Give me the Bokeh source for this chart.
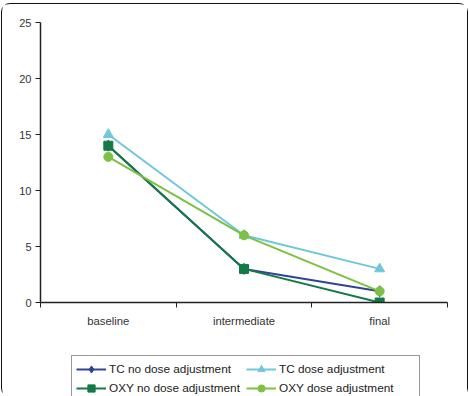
from bokeh.plotting import figure
from bokeh.layouts import column
from bokeh.models import FixedTicker, Legend, LegendItem, Range1d
from bokeh.embed import file_html
from bokeh.resources import INLINE

# Data
categories = ["baseline", "intermediate", "final"]
tc_no_adj = [14, 3, 1]
tc_adj = [15, 6, 3]
oxy_no_adj = [14, 3, 0]
oxy_adj = [13, 6, 1]
y_ticks = [0, 5, 10, 15, 20, 25]

xs = [i + 0.5 for i in range(len(categories))]

FONT = "Liberation Sans"
W = 465

p = figure(width=W, height=330, output_backend="svg", toolbar_location=None,
           x_range=Range1d(0, len(categories)), y_range=Range1d(0, 25),
           min_border_left=38, min_border_right=20, min_border_top=18, min_border_bottom=32)
p.outline_line_color = None
p.grid.visible = False

# y axis
p.yaxis.ticker = FixedTicker(ticks=y_ticks)
p.yaxis.major_tick_out = 5
p.yaxis.major_tick_in = 0
p.yaxis.minor_tick_line_color = None
p.yaxis.axis_line_color = "#222222"
p.yaxis.axis_line_width = 1.5
p.yaxis.major_tick_line_color = "#222222"
p.yaxis.major_label_text_font = FONT
p.yaxis.major_label_text_font_size = "11px"
p.yaxis.major_label_text_color = "#333333"
p.yaxis.major_label_standoff = 4

# x axis: labels at category centres, tick marks on category boundaries
p.xaxis.ticker = FixedTicker(ticks=xs, minor_ticks=list(range(len(categories) + 1)))
p.xaxis.major_label_overrides = {x: c for x, c in zip(xs, categories)}
p.xaxis.major_tick_line_color = None
p.xaxis.minor_tick_out = 5
p.xaxis.minor_tick_in = 0
p.xaxis.minor_tick_line_color = "#222222"
p.xaxis.axis_line_color = "#222222"
p.xaxis.axis_line_width = 1.5
p.xaxis.major_label_text_font = FONT
p.xaxis.major_label_text_font_size = "11.3px"
p.xaxis.major_label_text_color = "#333333"
p.xaxis.major_label_standoff = 6

series = [
    ("TC no dose adjustment", tc_no_adj, "#2E4596", "diamond", 11),
    ("TC dose adjustment", tc_adj, "#6FC7DA", "triangle", 10),
    ("OXY no dose adjustment", oxy_no_adj, "#137A45", "square", 9),
    ("OXY dose adjustment", oxy_adj, "#7CC144", "circle", 9),
]

for name, vals, color, marker, size in series:
    p.line(xs, vals, line_color=color, line_width=2)
    p.scatter(xs, vals, marker=marker, size=size, fill_color=color, line_color=color)

# legend strip underneath the chart (its own renderers sit outside the visible range)
lg = figure(width=W, height=62, output_backend="svg", toolbar_location=None,
            x_range=Range1d(0, 1), y_range=Range1d(50, 51),
            min_border=0, x_axis_type=None, y_axis_type=None)
lg.outline_line_color = None
lg.grid.visible = False

items = {}
for name, vals, color, marker, size in series:
    r1 = lg.line(xs, vals, line_color=color, line_width=2)
    r2 = lg.scatter(xs, vals, marker=marker, size=size, fill_color=color, line_color=color)
    items[name] = LegendItem(label=name, renderers=[r1, r2])

# legend fills column by column, so order entries to read row by row
order = ["TC no dose adjustment", "OXY no dose adjustment",
         "TC dose adjustment", "OXY dose adjustment"]

legend = Legend(items=[items[n] for n in order], ncols=2, location=(31, -6),
                label_text_font=FONT, label_text_font_size="11.8px", label_text_color="#222222",
                glyph_width=30, glyph_height=18, label_standoff=3, spacing=1,
                label_height=14, label_width=136, padding=4, margin=0,
                border_line_color="#333333", border_line_width=1.2,
                background_fill_alpha=1)
lg.add_layout(legend, "center")

layout = column(p, lg, spacing=0,
                styles={"border": "1.5px solid #111111", "border-radius": "9px",
                        "margin-top": "3px", "margin-left": "1px"})

open("out.html", "w").write(file_html(layout, INLINE))
